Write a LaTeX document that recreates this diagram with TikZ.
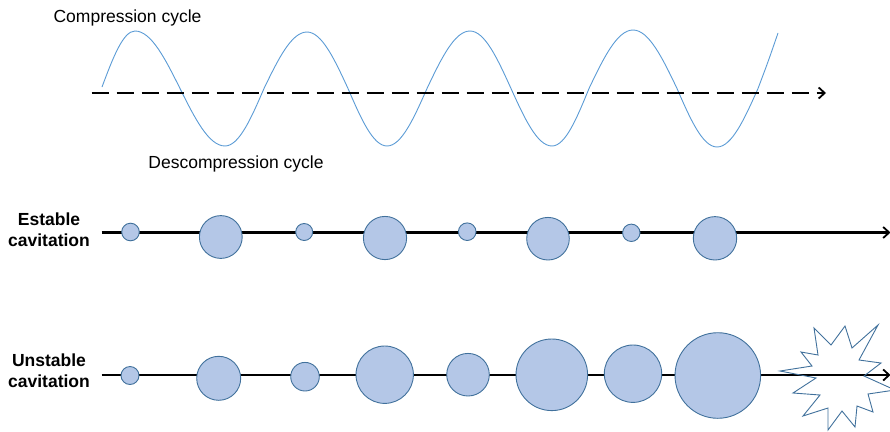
\documentclass[tikz,border=0pt]{standalone}
\usepackage{fontspec}
\setmainfont{Liberation Sans}
\usetikzlibrary{arrows.meta}
\definecolor{bubfill}{HTML}{B4C7E7}
\definecolor{bubline}{HTML}{41719C}
\definecolor{wavecol}{HTML}{5B9BD5}
\tikzset{
  lbl/.style={inner sep=0pt, font=\fontsize{17.5}{21}\selectfont},
  blbl/.style={lbl, font=\fontsize{17.5}{21}\selectfont\bfseries, align=center},
  bub/.style={circle, draw=bubline, fill=bubfill, line width=0.9pt, inner sep=0pt, minimum size=#1},
  axis/.style={line width=2.3pt, -{Straight Barb[length=6pt,width=11pt,line width=1.8pt]}},
  wave/.style={draw=wavecol, line width=0.9pt},
  burst/.style={draw=bubline, line width=0.9pt, line join=miter},
}
\begin{document}
\begin{tikzpicture}[x=1pt,y=-1pt]
\useasboundingbox (0,0) rectangle (890,431);

% texts
\node[lbl, anchor=base] (comp) at (127.5,22) {Compression cycle};
\node[lbl, anchor=base] (decomp) at (236,168.5) {Descompression cycle};
\node[blbl, anchor=base] (est) at (49,246.7) {Estable\\cavitation};
\node[blbl, anchor=base] (unst) at (49,387.7) {Unstable\\cavitation};

% wave
\draw[wave] (102,87) sin (135,31) cos (180,88.5) sin (225,146) cos (264,88.5)
  sin (307,32) cos (348,88.5) sin (387,146) cos (427,88.5)
  sin (470,31) cos (511,88.5) sin (552,146) cos (589,88.5)
  sin (633,30) cos (677,88.5) sin (717,147) cos (758,88.5)
  .. controls (768,62) .. (778,33);

% dashed time axis
\coordinate (d0) at (91.7,93);
\coordinate (d1) at (826,93);
\draw[axis, line width=2.6pt, dash pattern=on 17pt off 8pt] (d0) -- (d1);

% stable cavitation line
\coordinate (s0) at (101.7,232.5);
\coordinate (s1) at (890.5,232.5);
\draw[axis] (s0) -- (s1);
\node[bub=17.6pt] (a1) at (130.5,232) {};
\node[bub=42.8pt] (a2) at (220.8,237) {};
\node[bub=17pt]   (a3) at (304.2,232) {};
\node[bub=43.2pt] (a4) at (385,238) {};
\node[bub=17.6pt] (a5) at (467.2,231.7) {};
\node[bub=42.6pt] (a6) at (548,238.7) {};
\node[bub=17.4pt] (a7) at (631.3,232.8) {};
\node[bub=43.4pt] (a8) at (715,238.3) {};

% unstable cavitation line
\coordinate (u0) at (101.7,375);
\coordinate (u1) at (890.5,375);
\draw[axis] (u0) -- (u1);
\node[bub=18pt]   (b1) at (130,375.5) {};
\node[bub=44pt]   (b2) at (218.7,378.3) {};
\node[bub=28.6pt] (b3) at (305,376.7) {};
\node[bub=57.4pt] (b4) at (384.7,374.7) {};
\node[bub=42.6pt] (b5) at (468,374.7) {};
\node[bub=71.6pt] (b6) at (551.8,374.8) {};
\node[bub=57.4pt] (b7) at (633,373.7) {};
\node[bub=85.6pt] (b8) at (717.8,375.5) {};

% collapse burst
\draw[burst] (780,371) -- (812,366) -- (801,352) -- (818,355) -- (814,328)
  -- (831,345) -- (845,326) -- (852,348) -- (878,325) -- (859,360)
  -- (881,363) -- (864,376) -- (895,390) -- (868,394) -- (873,412)
  -- (857,406) -- (855,427) -- (842,411) -- (828,430) -- (828,408)
  -- (803,416) -- (820,395) -- (793,393) -- (816,378) -- cycle;
\end{tikzpicture}
\end{document}
